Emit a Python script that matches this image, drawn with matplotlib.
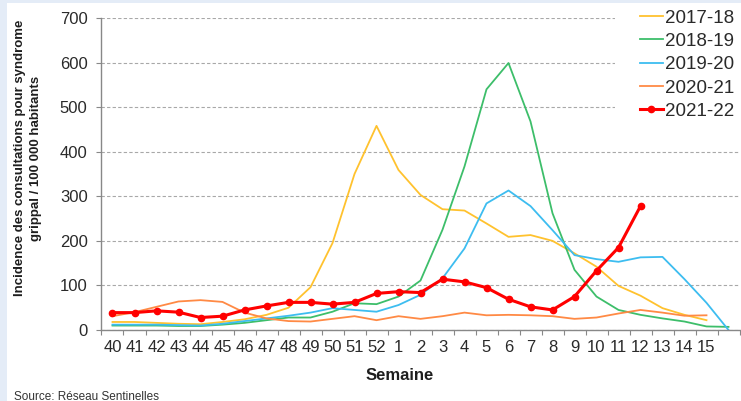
import matplotlib.pyplot as plt
from matplotlib.patches import Rectangle

# Semaines (saison 40 -> 16)
weeks = [str(w) for w in range(40, 53)] + [str(w) for w in range(1, 16)] + [""]

# Incidence pour 100 000 habitants
s2017_18 = [18, 18, 16, 14, 13, 18, 24, 34, 50, 96, 195, 350, 458, 359, 303, 271,
            268, 239, 209, 213, 200, 172, 142, 99, 77, 49, 34, 22, None]
s2018_19 = [10, 10, 10, 9, 9, 12, 16, 22, 28, 28, 41, 60, 58, 75, 111, 225,
            367, 540, 599, 468, 262, 135, 75, 45, 34, 26, 19, 8, 7]
s2019_20 = [12, 12, 12, 11, 10, 14, 20, 26, 32, 39, 49, 45, 41, 56, 79, 116,
            183, 284, 313, 278, 224, 168, 159, 153, 163, 164, 114, 61, 0]
s2020_21 = [31, 40, 52, 64, 67, 63, 39, 26, 20, 19, 25, 31, 22, 31, 25, 31,
            39, 33, 34, 33, 31, 25, 28, 37, 45, 39, 32, 33, None]
s2021_22 = [39, 39, 43, 40, 28, 31, 45, 54, 62, 62, 58, 62, 82, 86, 84, 114,
            108, 95, 69, 52, 45, 75, 133, 185, 278, None, None, None, None]

seasons = ["2017-18", "2018-19", "2019-20", "2020-21", "2021-22"]
colors = ["#FFC22E", "#3DBE6A", "#3DBDF0", "#FF8A45", "#FF0000"]

x = list(range(len(weeks)))

fig = plt.figure(figsize=(7.41, 4.01), dpi=100)
fig.patch.set_facecolor("white")
# light blue border of the slide
fig.patches.append(Rectangle((0, 1 - 3 / 401), 1, 3 / 401, transform=fig.transFigure,
                             facecolor="#E4ECF7", edgecolor="none"))
fig.patches.append(Rectangle((0, 0), 7 / 741, 1, transform=fig.transFigure,
                             facecolor="#E4ECF7", edgecolor="none"))

ax = fig.add_axes([101.5 / 741, 1 - 330 / 401, 638 / 741, 312 / 401])

series = [s2017_18, s2018_19, s2019_20, s2020_21]
for vals, lab, col in zip(series, seasons[:4], colors[:4]):
    ax.plot(x, [float("nan") if v is None else v for v in vals], color=col, lw=1.3, label=lab)
ax.plot(x, [float("nan") if v is None else v for v in s2021_22], color=colors[4], lw=2.2,
        marker="o", markersize=4.5, label=seasons[4])

ax.set_xlim(-0.5, len(weeks) - 0.5)
ax.set_ylim(0, 700)
ax.set_yticks(range(0, 701, 100))
ax.yaxis.grid(True, color="#A8A8A8", linestyle=(0, (3, 2)), lw=0.8)
ax.set_axisbelow(True)

# category ticks between weeks, labels centred
ax.set_xticks([i - 0.5 for i in range(len(weeks) + 1)])
ax.set_xticklabels([])
ax.set_xticks(x, minor=True)
ax.set_xticklabels(weeks, minor=True)
ax.tick_params(axis="x", which="major", length=3.5, color="#888888", direction="out")
ax.tick_params(axis="x", which="minor", length=0, pad=7.5, labelsize=12, labelcolor="#2A2A2A")
ax.tick_params(axis="y", length=3.5, color="#888888", pad=6.5, labelsize=12, labelcolor="#2A2A2A")

for side in ["top", "right"]:
    ax.spines[side].set_visible(False)
for side in ["left", "bottom"]:
    ax.spines[side].set_color("#888888")
    ax.spines[side].set_linewidth(1.0)

for t in ax.get_xticklabels(minor=True) + ax.get_yticklabels():
    t.set_family("Liberation Sans")

leg = ax.legend(loc="upper left", bbox_to_anchor=(0.8305, 1.037), bbox_transform=fig.transFigure,
                frameon=True, facecolor="white", edgecolor="none", framealpha=1,
                prop={"family": "Liberation Sans", "size": 13.5},
                handlelength=1.25, handletextpad=0.1, labelspacing=0.33, borderpad=1.3,
                borderaxespad=0)
for txt in leg.get_texts():
    txt.set_color("#2A2A2A")

fig.text(28 / 741, 1 - 158 / 401,
         "Incidence des consultations pour syndrome\ngrippal / 100 000 habitants",
         rotation=90, ha="center", va="center", fontsize=9.5, fontweight="bold",
         family="Liberation Sans", color="#1E1E1E", linespacing=1.4)
fig.text(400 / 741, 1 - 375 / 401, "Semaine", ha="center", va="center",
         fontsize=12, fontweight="bold", family="Liberation Sans", color="#1E1E1E")
fig.text(14 / 741, 1.5 / 401, "Source: Réseau Sentinelles", ha="left", va="baseline",
         fontsize=8.5, family="Liberation Sans", color="#333333")

fig.savefig("out.png", dpi=100)
